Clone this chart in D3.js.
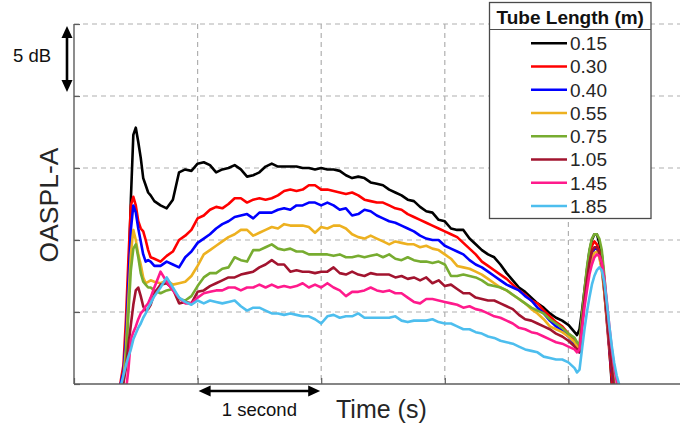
<!DOCTYPE html>
<html>
<head>
<meta charset="utf-8">
<script src="https://cdn.jsdelivr.net/npm/d3@7"></script>
<style>
  html, body { margin: 0; padding: 0; background: #fff; }
  svg { display: block; }
  text { font-family: "Liberation Sans", Arial, Helvetica, sans-serif; }
</style>
</head>
<body>
<svg id="chart" width="680" height="427"></svg>
<script>
// Tube lengths (m) shown in the legend
const tubeLengths = ["0.15", "0.30", "0.40", "0.55", "0.75", "1.05", "1.45", "1.85"];

// Sample times (s)
const timeS = [
  0.36, 0.38, 0.40, 0.42, 0.44, 0.46, 0.48, 0.50, 0.52, 0.54, 0.56, 0.58, 0.60, 0.62,
  0.65, 0.70, 0.75, 0.80, 0.85, 0.90, 0.95, 1.00, 1.05, 1.10, 1.15, 1.20, 1.25, 1.30,
  1.35, 1.40, 1.45, 1.50, 1.55, 1.60, 1.65, 1.70, 1.75, 1.80, 1.85, 1.90, 1.95, 2.00,
  2.05, 2.10, 2.15, 2.20, 2.25, 2.30, 2.35, 2.40, 2.45, 2.50, 2.55, 2.60, 2.65, 2.70,
  2.75, 2.80, 2.85, 2.90, 2.95, 3.00, 3.05, 3.10, 3.15, 3.20, 3.25, 3.30, 3.35, 3.40,
  3.45, 3.50, 3.55, 3.60, 3.65, 3.70, 3.75, 3.80, 3.85, 3.90, 3.95, 4.00, 4.05,
  4.07, 4.09, 4.11, 4.13, 4.15, 4.17, 4.19, 4.21, 4.23, 4.25, 4.27, 4.29, 4.31, 4.33,
  4.35, 4.37, 4.39, 4.41, 4.43
];

// OASPL-A (dB, relative) per tube length
const oaspl015 = [
  -1.0, 0.0, 0.5, 2.8, 6.9, 12.8, 17.3, 17.8, 16.8, 15.7, 14.3, 13.8, 13.3, 13.1,
  12.7, 12.4, 12.2, 12.8, 14.7, 14.9, 14.8, 15.3, 15.4, 15.2, 14.7, 14.9, 15.0, 15.2,
  14.9, 14.4, 14.5, 14.7, 15.1, 15.3, 15.1, 15.1, 15.1, 15.1, 15.0, 15.0, 14.9, 15.0,
  14.9, 14.9, 14.8, 14.5, 14.3, 14.4, 14.3, 14.0, 13.9, 13.8, 13.5, 13.3, 13.1, 12.8,
  12.7, 12.3, 12.0, 11.9, 11.4, 11.3, 10.8, 10.7, 10.7, 10.1, 9.7, 9.3, 9.0, 8.8,
  8.3, 7.7, 7.2, 6.7, 6.4, 6.0, 5.6, 5.3, 4.9, 4.6, 4.4, 4.1, 3.6,
  3.4, 3.8, 5.1, 6.5, 7.9, 9.2, 10.0, 10.4, 10.4, 9.8, 9.0, 7.2, 5.1, 2.7,
  0.1, -1.5, -3.0, -3.0, -3.0
];
const oaspl030 = [
  -1.0, 0.3, 1.3, 4.4, 8.6, 12.4, 13.0, 12.4, 11.3, 10.8, 10.6, 10.0, 9.3, 8.8,
  8.7, 8.5, 8.9, 9.2, 10.0, 10.3, 10.7, 11.5, 11.7, 12.1, 12.3, 12.2, 12.5, 12.9,
  12.9, 12.6, 12.8, 12.9, 12.8, 12.9, 13.1, 13.4, 13.5, 13.4, 13.5, 13.8, 13.8, 13.5,
  13.5, 13.4, 13.3, 13.2, 13.3, 13.1, 12.8, 12.7, 12.6, 12.6, 12.4, 12.2, 12.1, 11.8,
  11.6, 11.4, 11.2, 11.0, 10.8, 10.6, 10.4, 10.2, 9.8, 9.4, 9.0, 8.5, 8.2, 7.9,
  7.6, 7.3, 6.9, 6.5, 6.2, 5.8, 5.6, 5.1, 4.7, 4.3, 4.0, 3.5, 3.1,
  2.6, 2.4, 4.4, 6.2, 7.7, 8.9, 9.6, 9.9, 9.7, 9.2, 8.3, 6.5, 4.4, 2.4,
  0.4, -1.5, -3.0, -3.0, -3.0
];
const oaspl040 = [
  -1.0, 0.1, 0.8, 3.1, 6.9, 10.7, 12.4, 11.9, 10.8, 9.9, 9.0, 8.5, 8.6, 8.5,
  8.2, 8.2, 8.5, 8.3, 8.1, 8.8, 9.2, 9.8, 10.1, 10.4, 10.8, 11.1, 11.3, 11.6,
  11.7, 11.8, 11.5, 11.9, 11.9, 11.9, 12.1, 12.2, 12.1, 12.4, 12.4, 12.6, 12.6, 12.4,
  12.6, 12.4, 12.1, 12.2, 11.7, 11.8, 12.1, 12.0, 11.7, 11.5, 11.3, 11.2, 11.0, 10.8,
  10.6, 10.3, 10.1, 10.0, 10.0, 9.6, 9.4, 9.2, 9.0, 8.6, 8.3, 8.1, 7.8, 7.5,
  7.2, 6.9, 6.7, 6.5, 6.1, 5.8, 5.3, 4.9, 4.4, 4.0, 3.7, 3.3, 2.8,
  2.4, 2.2, 4.1, 5.8, 7.2, 8.3, 9.0, 9.4, 9.4, 8.9, 8.1, 6.5, 4.6, 2.7,
  1.0, -0.4, -2.0, -2.0, -2.0
];
const oaspl055 = [
  -1.0, -0.5, 0.4, 2.4, 5.8, 9.0, 10.7, 10.0, 9.0, 8.3, 7.4, 7.0, 7.1, 7.2,
  7.1, 7.0, 7.2, 6.9, 7.0, 7.1, 7.5, 8.2, 9.0, 9.3, 9.6, 9.9, 10.2, 10.4,
  10.7, 10.7, 10.3, 10.5, 10.7, 10.9, 10.8, 11.1, 11.0, 11.0, 11.0, 10.9, 10.5, 10.9,
  10.8, 11.0, 11.0, 10.8, 10.4, 10.2, 10.1, 10.3, 10.1, 9.9, 9.7, 9.9, 9.8, 9.7,
  9.7, 9.5, 9.6, 9.4, 9.3, 9.0, 8.7, 8.2, 8.1, 8.0, 7.8, 7.6, 7.3, 7.0,
  6.7, 6.5, 6.2, 5.9, 5.6, 5.2, 4.9, 4.5, 4.0, 3.8, 3.6, 3.3, 2.9,
  2.6, 2.5, 4.3, 5.8, 7.1, 8.1, 8.8, 9.1, 9.2, 8.8, 7.9, 6.4, 4.6, 2.8,
  1.3, -0.1, -2.0, -2.0, -2.0
];
const oaspl075 = [
  -1.0, -0.5, 0.1, 1.7, 4.8, 7.9, 9.4, 9.7, 8.8, 7.7, 7.1, 6.9, 6.7, 6.7,
  6.5, 6.3, 6.5, 6.6, 5.9, 5.8, 6.1, 6.8, 7.4, 7.7, 7.7, 8.0, 8.1, 8.8,
  8.6, 8.5, 9.3, 9.3, 9.5, 9.7, 9.4, 9.3, 9.4, 9.2, 9.2, 9.0, 9.0, 9.0,
  9.0, 8.9, 9.0, 8.8, 8.8, 8.9, 8.8, 8.9, 9.0, 8.8, 9.0, 8.7, 8.6, 8.8,
  8.6, 8.5, 8.5, 8.4, 8.5, 8.3, 7.5, 7.5, 7.6, 7.5, 7.4, 7.2, 6.9, 6.8,
  6.7, 6.5, 6.2, 5.9, 5.6, 5.3, 5.1, 4.9, 4.5, 4.2, 3.9, 3.5, 3.2,
  2.9, 2.7, 4.8, 6.5, 8.1, 9.3, 10.1, 10.4, 10.4, 10.1, 9.3, 7.6, 5.5, 3.4,
  1.5, 0.1, -1.5, -2.0, -2.0
];
const oaspl105 = [
  -1.0, -0.5, 0.1, 1.1, 2.7, 4.1, 5.5, 6.5, 6.7, 6.1, 5.4, 5.1, 5.2, 5.5,
  6.3, 6.9, 7.0, 6.6, 5.6, 5.7, 5.6, 6.4, 6.5, 6.8, 7.0, 7.2, 7.4, 7.4,
  7.6, 7.7, 7.8, 8.1, 8.3, 8.6, 8.3, 8.3, 7.8, 7.9, 7.8, 7.8, 7.7, 7.8,
  7.8, 8.1, 7.7, 7.6, 7.8, 7.6, 7.5, 7.7, 7.6, 7.6, 7.6, 7.4, 7.5, 7.3,
  7.4, 7.2, 7.4, 7.0, 7.2, 6.8, 6.9, 6.6, 6.3, 6.3, 6.0, 5.9, 5.8, 5.8,
  5.6, 5.4, 5.2, 4.8, 4.5, 4.4, 4.2, 4.0, 3.8, 3.5, 3.3, 3.0, 2.6,
  2.4, 2.2, 4.1, 5.8, 7.2, 8.4, 9.2, 9.5, 9.5, 9.1, 8.3, 6.7, 4.8, 2.8,
  1.1, -0.3, -2.0, -2.0, -2.0
];
const oaspl145 = [
  -1.5, -1.2, -1.0, -0.5, 1.0, 3.1, 3.6, 4.0, 4.5, 4.9, 5.1, 5.4, 5.6, 6.0,
  6.7, 7.8, 7.1, 6.5, 6.0, 5.6, 5.6, 6.0, 6.3, 6.4, 6.5, 6.5, 6.7, 6.7,
  6.5, 6.7, 6.7, 6.9, 6.7, 6.9, 6.7, 6.8, 6.7, 6.8, 7.0, 6.7, 6.9, 6.7,
  7.0, 6.7, 6.5, 6.1, 6.4, 6.4, 6.5, 6.7, 6.5, 6.4, 6.5, 6.3, 6.3, 6.0,
  5.7, 5.6, 5.9, 5.9, 5.8, 5.7, 5.6, 5.5, 5.3, 5.4, 5.2, 5.1, 4.9, 4.7,
  4.6, 4.4, 4.2, 3.9, 3.8, 3.6, 3.5, 3.3, 3.1, 2.9, 2.8, 2.6, 2.4,
  2.2, 2.4, 3.8, 5.3, 6.5, 7.6, 8.3, 8.8, 9.0, 8.9, 8.4, 7.4, 5.8, 4.1,
  2.5, 1.2, 0.2, -1.0, -2.0
];
const oaspl185 = [
  -1.0, -0.1, 0.6, 1.3, 1.9, 2.4, 3.1, 3.5, 3.9, 4.2, 4.6, 4.9, 5.3, 5.6,
  6.1, 6.7, 7.4, 6.7, 6.0, 5.7, 5.5, 5.8, 5.6, 5.8, 5.7, 5.6, 5.7, 5.8,
  5.4, 5.1, 5.3, 5.3, 5.1, 4.9, 4.9, 4.8, 4.9, 4.8, 4.7, 4.7, 4.5, 4.2,
  4.7, 4.8, 4.6, 4.7, 4.7, 4.9, 4.6, 4.6, 4.6, 4.6, 4.6, 4.7, 4.4, 4.3,
  4.4, 4.4, 4.4, 4.5, 4.3, 4.2, 4.2, 4.0, 3.8, 3.8, 3.6, 3.5, 3.3, 3.2,
  3.0, 2.9, 2.8, 2.6, 2.4, 2.3, 2.2, 1.9, 1.8, 1.7, 1.7, 1.5, 1.1,
  0.8, 1.0, 2.4, 3.8, 5.0, 6.0, 6.9, 7.5, 7.9, 8.1, 7.9, 7.1, 5.7, 4.1,
  2.7, 1.5, 0.6, 0.0, -1.0
];

// Grid positions: one line per second, one per 5 dB
const timeTicks = [0, 1, 2, 3, 4, 5];
const levelTicks = [0, 5, 10, 15, 20, 25];

const seriesValues = [oaspl015, oaspl030, oaspl040, oaspl055, oaspl075, oaspl105, oaspl145, oaspl185];
const lineColors = ["#000000", "#ff0000", "#0000ff", "#edb120", "#77ac30", "#a2142f", "#ff1a8c", "#4dbeee"];

const svg = d3.select("#chart");
const plot = { left: 74, top: 24, bottom: 384, right: 692 };

const x = d3.scaleLinear().domain([0, 5]).range([plot.left, plot.right]);
const y = d3.scaleLinear().domain([0, 25]).range([plot.bottom, plot.top]);

const gridColor = "#b0b0b0";
const axisColor = "#5c5c5c";
const textColor = "#262626";

// Dashed grid
svg.append("g").selectAll("line").data(levelTicks.filter(d => d > 0)).join("line")
  .attr("x1", plot.left).attr("x2", 680)
  .attr("y1", d => y(d)).attr("y2", d => y(d))
  .attr("stroke", gridColor).attr("stroke-width", 1.2).attr("stroke-dasharray", "5,4");
svg.append("g").selectAll("line").data(timeTicks.filter(d => d > 0)).join("line")
  .attr("x1", d => x(d)).attr("x2", d => x(d))
  .attr("y1", plot.top).attr("y2", plot.bottom)
  .attr("stroke", gridColor).attr("stroke-width", 1.2).attr("stroke-dasharray", "5,4");

// Series lines, clipped to the axes box
svg.append("clipPath").attr("id", "plotClip").append("rect")
  .attr("x", plot.left).attr("y", 0).attr("width", 680 - plot.left).attr("height", plot.bottom);

const line = d3.line()
  .x((d, i) => x(timeS[i]))
  .y(d => y(d));

svg.append("g").attr("clip-path", "url(#plotClip)")
  .selectAll("path").data(seriesValues).join("path")
  .attr("d", d => line(d))
  .attr("fill", "none")
  .attr("stroke", (d, i) => lineColors[i])
  .attr("stroke-width", 2.6)
  .attr("stroke-linejoin", "round")
  .attr("stroke-linecap", "round");

// Axes: unlabeled ticks pointing inward
const xAxis = d3.axisBottom(x).tickValues(timeTicks).tickSize(-6).tickFormat("");
const gx = svg.append("g").attr("transform", `translate(0,${plot.bottom})`).call(xAxis);
gx.select(".domain").attr("d", `M${plot.left},0H680`);
const yAxis = d3.axisLeft(y).tickValues(levelTicks).tickSize(-6).tickFormat("");
const gy = svg.append("g").attr("transform", `translate(${plot.left},0)`).call(yAxis);
gy.select(".domain").attr("d", `M0,${plot.top}V${plot.bottom}`);
[gx, gy].forEach(g => {
  g.selectAll(".domain").attr("stroke", axisColor).attr("stroke-width", 1.4);
  g.selectAll(".tick line").attr("stroke", axisColor).attr("stroke-width", 1.2);
});

// Axis titles
svg.append("text")
  .attr("transform", "translate(58,205) rotate(-90)")
  .attr("text-anchor", "middle")
  .attr("font-size", 26.5).attr("fill", textColor)
  .text("OASPL-A");
svg.append("text")
  .attr("x", 336).attr("y", 418)
  .attr("font-size", 25).attr("fill", textColor)
  .text("Time (s)");

// Scale bars
const arrowGroup = svg.append("g").attr("fill", "#000").attr("stroke", "#000");
function doubleArrow(x1, y1, x2, y2) {
  const len = Math.hypot(x2 - x1, y2 - y1);
  const ux = (x2 - x1) / len, uy = (y2 - y1) / len;
  const head = 12, half = 5.5;
  arrowGroup.append("line")
    .attr("x1", x1 + ux * head * 0.8).attr("y1", y1 + uy * head * 0.8)
    .attr("x2", x2 - ux * head * 0.8).attr("y2", y2 - uy * head * 0.8)
    .attr("stroke-width", 2.6);
  [[x1, y1, 1], [x2, y2, -1]].forEach(([px, py, s]) => {
    const bx = px + s * ux * head, by = py + s * uy * head;
    arrowGroup.append("path")
      .attr("stroke", "none")
      .attr("d", `M${px},${py}L${bx - uy * half},${by + ux * half}L${bx + uy * half},${by - ux * half}Z`);
  });
}
doubleArrow(67, y(25) + 2, 67, y(20) - 4);
doubleArrow(x(1) + 1, 391, x(2) - 1, 391);

svg.append("text")
  .attr("x", 13).attr("y", 62)
  .attr("font-size", 18.5).attr("fill", "#111")
  .text("5 dB");
svg.append("text")
  .attr("x", (x(1) + x(2)) / 2).attr("y", 416)
  .attr("text-anchor", "middle")
  .attr("font-size", 18.5).attr("fill", "#111")
  .text("1 second");

// Legend
const legend = svg.append("g");
legend.append("rect")
  .attr("x", 489.5).attr("y", 2.5).attr("width", 161.5).attr("height", 216)
  .attr("fill", "#fff").attr("stroke", "#4a4a4a").attr("stroke-width", 1.3);
legend.append("line")
  .attr("x1", 489.5).attr("x2", 651).attr("y1", 29.5).attr("y2", 29.5)
  .attr("stroke", "#4a4a4a").attr("stroke-width", 1.1);
legend.append("text")
  .attr("x", 570.25).attr("y", 23.5)
  .attr("text-anchor", "middle")
  .attr("font-size", 19).attr("font-weight", "bold").attr("fill", "#111")
  .text("Tube Length (m)");

const rows = legend.selectAll("g.row").data(tubeLengths).join("g")
  .attr("class", "row")
  .attr("transform", (d, i) => `translate(0,${43.3 + i * 23.25})`);
rows.append("line")
  .attr("x1", 531).attr("x2", 567).attr("y1", 0).attr("y2", 0)
  .attr("stroke", (d, i) => lineColors[i]).attr("stroke-width", 2.6);
rows.append("text")
  .attr("x", 570).attr("y", 0).attr("dy", "0.36em")
  .attr("font-size", 19).attr("fill", textColor)
  .text(d => d);
</script>
</body>
</html>
